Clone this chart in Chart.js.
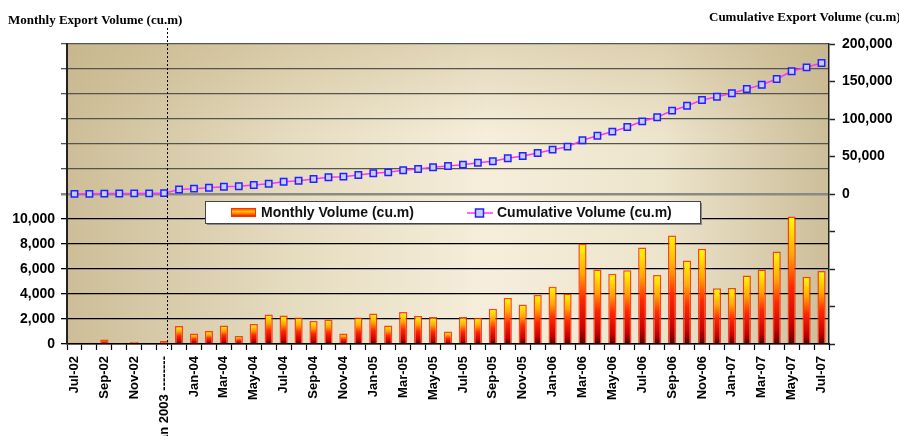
<!DOCTYPE html>
<html>
<head>
<meta charset="utf-8">
<script src="https://cdn.jsdelivr.net/npm/chart.js@4/dist/chart.umd.min.js"></script>
<style>
  body { margin: 0; background: #fff; }
  canvas { display: block; }
</style>
</head>
<body>
<canvas id="chart" width="899" height="436"></canvas>
<script>
const months = [
  'Jul-02', 'Aug-02', 'Sep-02', 'Oct-02', 'Nov-02', 'Dec-02', 'Jan 2003 --------', 'Dec-03',
  'Jan-04', 'Feb-04', 'Mar-04', 'Apr-04', 'May-04', 'Jun-04', 'Jul-04', 'Aug-04', 'Sep-04', 'Oct-04', 'Nov-04', 'Dec-04',
  'Jan-05', 'Feb-05', 'Mar-05', 'Apr-05', 'May-05', 'Jun-05', 'Jul-05', 'Aug-05', 'Sep-05', 'Oct-05', 'Nov-05', 'Dec-05',
  'Jan-06', 'Feb-06', 'Mar-06', 'Apr-06', 'May-06', 'Jun-06', 'Jul-06', 'Aug-06', 'Sep-06', 'Oct-06', 'Nov-06', 'Dec-06',
  'Jan-07', 'Feb-07', 'Mar-07', 'Apr-07', 'May-07', 'Jun-07', 'Jul-07'
]

const monthlyVolume = [
  100, 100, 370, 50, 190, 50, 240, 1440,
  850, 1040, 1490, 640, 1600, 2370, 2290, 2130, 1840, 1970, 850, 2130,
  2450, 1490, 2560, 2240, 2160, 1000, 2160, 2110, 2830, 3710, 3170, 3920,
  4590, 4050, 8030, 5970, 5630, 5900, 7730, 5520, 8690, 6690, 7630, 4460,
  4480, 5490, 5970, 7410, 10210, 5390, 5840
]

const cumulativeVolume = [
  100, 200, 570, 620, 810, 860, 1100, 6000,
  7100, 8400, 9700, 10300, 12000, 13700, 16400, 17700, 20000, 22300, 23100, 25300,
  27600, 28900, 31600, 33300, 35600, 37300, 39100, 41700, 43600, 47600, 50700, 54700,
  59100, 63100, 71600, 77700, 83100, 89300, 96900, 102300, 111100, 117700, 125300, 129700,
  134300, 140000, 145700, 153300, 163600, 168900, 174700
]

const leftMax = 24000
const leftLabelMax = 10000
const rightMin = -200000
const rightMax = 200000

function barGradient(context) {
    const chart = context.chart
    if (context.type !== 'data' || !chart.chartArea) return '#ff8000'
    const y = chart.scales.y
    const top = y.getPixelForValue(context.parsed.y)
    const base = y.getPixelForValue(0)
    if (!isFinite(top) || base - top < 1) return '#ff2000'
    const g = chart.ctx.createLinearGradient(0, top, 0, base)
    g.addColorStop(0, '#ffff00')
    g.addColorStop(0.3, '#ffa800')
    g.addColorStop(0.55, '#ff2800')
    g.addColorStop(0.85, '#c80000')
    g.addColorStop(1, '#5a0000')
    return g
}

function gridColor(ctx) {
    const v = ctx.tick ? ctx.tick.value : 0
    if (v === 12000) return '#8a8a82'
    return v > 12000 ? '#55554d' : '#000000'
}

const backgroundPlugin = {
    id: 'plotBackground',
    beforeDraw(chart) {
        const { ctx, chartArea: a } = chart
        ctx.save()
        const g = ctx.createLinearGradient(a.left, 0, a.right, 0)
        g.addColorStop(0, '#cdbe98')
        g.addColorStop(0.3, '#e6dcc0')
        g.addColorStop(0.55, '#f6eedb')
        g.addColorStop(0.78, '#ede4cc')
        g.addColorStop(1, '#ccbe99')
        ctx.fillStyle = g
        ctx.fillRect(a.left, a.top, a.right - a.left, a.bottom - a.top)
        const v = ctx.createLinearGradient(0, a.top, 0, a.bottom)
        v.addColorStop(0, 'rgba(190,170,120,0.35)')
        v.addColorStop(0.3, 'rgba(190,170,120,0)')
        v.addColorStop(1, 'rgba(190,170,120,0)')
        ctx.fillStyle = v
        ctx.fillRect(a.left, a.top, a.right - a.left, a.bottom - a.top)
        ctx.restore()
    }
}

const overlayPlugin = {
    id: 'overlay',
    afterDraw(chart) {
        const { ctx, chartArea: a } = chart
        ctx.save()

        // break marker
        const bx = Math.round(chart.scales.x.getPixelForValue(6) + 3) + 0.5
        ctx.strokeStyle = '#000'
        ctx.lineWidth = 1
        ctx.setLineDash([2, 2])
        ctx.beginPath()
        ctx.moveTo(bx, 28)
        ctx.lineTo(bx, a.bottom + 5)
        ctx.stroke()
        ctx.setLineDash([])

        // axis titles
        ctx.fillStyle = '#000'
        ctx.font = 'bold 13px "Liberation Serif", "Times New Roman", serif'
        ctx.textBaseline = 'alphabetic'
        ctx.textAlign = 'left'
        ctx.fillText('Monthly Export Volume (cu.m)', 8, 24)
        ctx.fillText('Cumulative Export Volume (cu.m)', 709, 21)

        // legend
        const lx = 205, ly = 201, lw = 495, lh = 22
        ctx.fillStyle = '#8a8a8a'
        ctx.fillRect(lx + 2, ly + 2, lw, lh)
        ctx.fillStyle = '#fff'
        ctx.fillRect(lx, ly, lw, lh)
        ctx.strokeStyle = '#444'
        ctx.lineWidth = 1
        ctx.strokeRect(lx + 0.5, ly + 0.5, lw, lh)

        const sg = ctx.createLinearGradient(0, 208, 0, 217)
        sg.addColorStop(0, '#ff2000')
        sg.addColorStop(0.4, '#ffc800')
        sg.addColorStop(0.7, '#ff6000')
        sg.addColorStop(1, '#e00000')
        ctx.fillStyle = sg
        ctx.fillRect(231, 208, 25, 9)
        ctx.strokeStyle = '#ff3000'
        ctx.strokeRect(231.5, 208.5, 24, 8)

        ctx.strokeStyle = '#ff33ff'
        ctx.lineWidth = 1.5
        ctx.beginPath()
        ctx.moveTo(467, 213)
        ctx.lineTo(493, 213)
        ctx.stroke()
        ctx.fillStyle = '#c8ccff'
        ctx.fillRect(475.5, 209, 8, 8)
        ctx.strokeStyle = '#2222ff'
        ctx.strokeRect(475.5, 209, 8, 8)

        ctx.fillStyle = '#111'
        ctx.font = 'bold 14px "Liberation Sans", Arial, sans-serif'
        ctx.textBaseline = 'middle'
        ctx.fillText('Monthly Volume (cu.m)', 261, 213)
        ctx.fillText('Cumulative Volume (cu.m)', 497, 213)
        ctx.restore()
    }
}

Chart.defaults.font.family = '"Liberation Sans", Arial, sans-serif'
Chart.defaults.font.weight = 'bold'
Chart.defaults.font.size = 14
Chart.defaults.color = '#000'

const config = {
    data: {
        labels: months,
        datasets: [
            {
                type: 'line',
                label: 'Cumulative Volume (cu.m)',
                data: cumulativeVolume,
                yAxisID: 'y1',
                borderColor: '#ff33ff',
                borderWidth: 1.5,
                pointStyle: 'rect',
                pointRadius: 4.5,
                pointBackgroundColor: '#c8ccff',
                pointBorderColor: '#2222ff',
                pointBorderWidth: 1.5,
                tension: 0,
                order: 0
            },
            {
                type: 'bar',
                label: 'Monthly Volume (cu.m)',
                data: monthlyVolume,
                yAxisID: 'y',
                backgroundColor: barGradient,
                borderColor: 'rgba(255,40,0,0.85)',
                borderWidth: 1.5,
                barPercentage: 0.55,
                categoryPercentage: 1,
                order: 1
            }
        ]
    },
    options: {
        responsive: false,
        animation: false,
        layout: { padding: { top: 44, left: 0, right: 0, bottom: 0 } },
        plugins: {
            legend: { display: false },
            tooltip: { enabled: false }
        },
        scales: {
            x: {
                offset: true,
                grid: { offset: true, drawOnChartArea: false, tickLength: 6, tickColor: '#000', tickWidth: 1.2 },
                border: { color: '#000', width: 1.5 },
                ticks: {
                    autoSkip: false,
                    minRotation: 90,
                    maxRotation: 90,
                    padding: 6,
                    font: { size: 13, weight: 'bold' },
                    callback: function(value, index) {
                        return index % 2 === 0 ? this.getLabelForValue(value) : ''
                    }
                },
                afterFit: s => { s.height = 92 }
            },
            y: {
                position: 'left',
                min: 0,
                max: leftMax,
                grid: { color: gridColor, lineWidth: ctx => (ctx.tick && ctx.tick.value === 12000 ? 2.5 : 1.3), tickLength: 6, tickColor: gridColor },
                border: { color: '#222', width: 2 },
                ticks: {
                    stepSize: 2000,
                    padding: 6,
                    callback: v => (v <= leftLabelMax ? v.toLocaleString('en-US') : '')
                },
                afterFit: s => { s.width = 67 }
            },
            y1: {
                position: 'right',
                min: rightMin,
                max: rightMax,
                grid: { drawOnChartArea: false, tickLength: 6, tickColor: '#222', tickWidth: 1.5 },
                border: { color: '#222', width: 1.5 },
                ticks: {
                    stepSize: 50000,
                    padding: 7,
                    callback: v => (v >= 0 ? v.toLocaleString('en-US') : '')
                },
                afterFit: s => { s.width = 70 }
            }
        }
    },
    plugins: [backgroundPlugin, overlayPlugin]
}

new Chart(document.getElementById('chart').getContext('2d'), config)
</script>
</body>
</html>
